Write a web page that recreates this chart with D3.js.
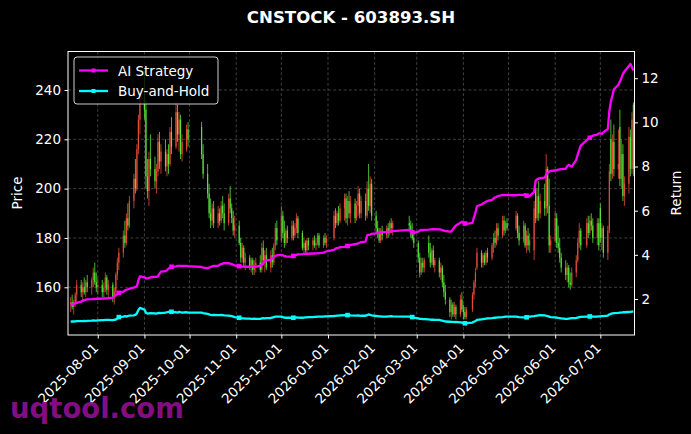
<!DOCTYPE html>
<html><head><meta charset="utf-8">
<script src="https://cdn.jsdelivr.net/npm/d3@7"></script>
<style>
body{margin:0;background:#000;}
svg{display:block;font-family:"DejaVu Sans",sans-serif;}
</style>
</head><body><svg id="c" width="691" height="434"></svg>
<script>
const titleText = "CNSTOCK - 603893.SH";
const startDate = "2025-07-14", endDate = "2026-07-23";
const holidays = ["2025-10-01","2025-10-02","2025-10-03","2025-10-06","2025-10-07","2025-10-08",
  "2026-01-01","2026-01-02","2026-02-16","2026-02-17","2026-02-18","2026-02-19","2026-02-20","2026-02-23",
  "2026-04-06","2026-05-01","2026-05-04","2026-05-05","2026-06-19"];
// [open, high, low, close]
const ohlc = [
[153,156,150,154],[154,157,151,152],[152,155,149,154],[154,158,152,157],[157,163,154,161],
[161,163,156,158],[158,162,154,160],[160,164,157,158],[158,163,156,162],[162,165,158,160],
[160,164,157,163],[163,168,160,166],[166,170,161,162],[162,166,158,160],[160,164,157,161],
[161,163,156,158],[158,162,155,160],[160,166,158,164],[164,165,157,159],[159,163,156,161],
[161,162,154,156],[156,160,153,158],[158,166,156,165],[165,172,163,170],[170,176,167,174],
[174,183,172,181],[181,187,176,178],[178,190,177,188],[188,194,183,185],[185,197,184,195],
[195,206,192,204],[204,212,198,200],[200,218,199,216],[216,230,214,228],[228,240,222,236],
[238,248,228,232],[232,236,200,205],[205,212,196,199],[199,215,193,212],[212,222,205,208],
[208,213,200,203],[203,210,198,207],[207,222,205,219],[219,223,208,211],[211,218,206,215],
[215,220,207,209],[209,216,205,214],[214,218,206,210],[210,225,209,223],[223,229,214,217],
[217,235,216,231],[231,234,219,222],[222,231,215,228],[228,230,212,214],[214,222,211,219],
[216,226,215,224],[224,227,217,220],
[225,227,212,214],[214,218,204,206],
[206,210,196,198],[198,202,188,190],[190,196,184,187],[187,194,185,192],[192,195,184,186],
[186,193,184,190],[190,192,185,187],[187,195,186,193],[193,197,188,190],[190,194,183,186],
[186,198,185,196],[196,201,190,192],[192,194,186,188],[188,191,181,183],[183,189,180,185],
[185,187,177,178],[178,180,170,172],[172,178,170,176],[176,177,168,170],[170,174,167,172],
[172,173,167,168],[168,172,166,171],[171,172,165,167],[167,171,165,169],[169,172,166,170],
[170,173,166,167],[167,178,166,176],[176,179,169,171],[171,175,166,173],[173,176,167,168],
[168,175,166,173],[173,176,168,170],[170,178,169,177],[177,186,175,184],[184,187,177,179],
[179,193,178,189],[189,191,180,182],[182,187,176,178],[178,184,177,183],[183,185,178,180],
[180,187,179,185],[185,187,179,181],[181,186,180,184],[184,190,182,188],[188,189,180,182],
[182,183,175,176],[176,180,174,178],[178,179,174,175],[175,180,174,179],[179,180,175,177],
[177,180,175,179],[179,181,176,177],[177,180,175,178],[178,182,177,181],[181,182,176,177],
[177,181,176,180],[180,182,177,178],[178,181,176,180],
[180,191,179,189],[189,192,184,186],[186,191,185,190],[190,193,185,187],[187,194,186,192],
[192,198,187,196],[196,198,186,188],[188,197,185,195],[195,199,188,190],[190,197,186,194],
[194,196,186,188],[188,195,187,193],[193,201,189,198],[198,200,188,190],[190,197,188,195],
[195,198,187,189],[189,203,188,200],[200,210,191,193],[193,205,190,202],[202,204,187,189],
[189,191,182,184],[184,187,180,182],[182,184,178,179],[179,184,178,183],[183,185,179,181],
[181,185,180,184],[184,186,180,182],[182,187,181,186],[186,188,182,184],[184,187,181,186],
[186,189,183,185],[185,187,180,182],[182,186,179,180],[180,183,176,178],
[178,179,170,172],[172,174,164,166],[166,172,165,170],[170,172,166,168],[168,172,166,171],
[178,181,172,174],[174,178,168,170],[170,176,169,175],[175,177,168,169],[169,172,166,171],
[171,172,164,166],[166,170,163,168],[168,169,160,162],[162,165,156,158],[158,161,153,155],
[155,156,148,150],[150,155,147,153],[153,154,148,149],[149,154,148,152],[152,153,147,149],
[149,157,148,155],[155,158,150,151],[151,153,147,150],[150,152,147,148],[148,152,147,151],
[151,158,150,157],[157,163,155,162],[162,168,160,166],[168,176,167,174],
[174,175,168,170],[170,174,168,173],[173,174,169,170],[170,175,169,174],[174,176,170,172],
[172,178,171,177],[177,182,174,180],[180,183,176,178],[178,186,177,184],[184,186,179,181],
[181,189,180,187],[187,189,181,183],[183,187,182,186],[186,188,183,184],
[184,191,183,189],[189,190,180,182],[182,185,177,179],
[179,187,178,185],[185,186,176,177],[177,183,174,181],[181,184,175,177],[177,182,174,179],
[175,195,171,192],[200,203,186,188],[188,200,187,197],[197,203,187,190],[190,198,188,195],
[195,202,189,192],[192,214,189,208],[208,209,190,193],[193,204,174,177],[177,181,174,179],
[179,191,178,188],[188,190,176,178],[178,185,174,176],[176,180,170,172],[172,174,166,168],
[168,171,163,165],[165,170,162,168],[168,169,160,162],[162,166,159,161],[161,168,160,166],
[166,173,164,171],[171,180,170,178],[178,186,176,183],[183,184,175,177],
[177,188,176,186],[186,189,180,182],[182,189,181,187],[187,190,183,185],[185,188,178,180],
[180,188,177,186],[186,188,175,177],[192,194,178,180],[180,186,175,184],[184,185,172,174],
[174,185,171,183],[183,210,182,207],[220,228,203,206],[206,222,204,219],[219,226,205,208],
[208,224,204,210],[225,232,201,204],[204,220,200,214],[214,218,195,197],[197,205,193,202],
[202,225,198,221],[221,224,205,208],[208,231,206,228],[234,235,205,208]
];
const aiReturn = [
1.73,1.75,1.78,1.80,1.82, 1.88,1.92,1.95,1.97,1.98, 1.99,2.00,2.00,2.01,2.01, 2.02,2.02,2.03,2.03,2.04,
2.06,2.12,2.18,2.22,2.28, 2.33,2.38,2.42,2.44,2.47, 2.52,2.55,2.58,2.85,3.02, 2.98,2.94,2.93,2.96,2.98,
3.00,3.00,3.02,3.15,3.24, 3.26,3.30,3.38,3.42,3.46, 3.48,3.50,3.50,3.50,3.50, 3.50,3.49, 3.45,3.42,
3.40,3.42,3.45,3.48,3.50, 3.50,3.55,3.58,3.60,3.62, 3.62,3.60,3.58,3.55,3.52, 3.49,3.48,3.47,3.47,3.46,
3.46,3.47,3.50,3.48,3.47, 3.50,3.55,3.62,3.70,3.75, 3.78,3.84,3.90,3.95,3.98, 4.00,3.98,3.95,3.93,3.92,
3.92,3.95,3.98,4.00,4.02, 4.03,4.04,4.04,4.05,4.05, 4.06,4.06,4.07,4.07,4.08, 4.10,4.13,4.16,
4.22,4.28,4.30,4.32,4.35, 4.36,4.38,4.40,4.42,4.45, 4.48,4.50,4.52,4.55,4.58, 4.60,4.88,4.90,4.92,4.95,
4.97,4.99,5.00,5.02,5.03, 5.04,5.05,5.05,5.06,5.07, 5.13,5.08,5.03,5.00, 5.05,5.10,5.13,5.12,5.13,
5.14,5.15,5.15,5.16,5.16, 5.15,5.14,5.12,5.10,5.08, 5.05,5.06,5.15,5.25,5.33, 5.45,5.50,5.45,5.42,5.40,
5.45,5.70,5.90,6.20, 6.28,6.32,6.36,6.40,6.44, 6.49,6.55,6.60,6.62,6.66, 6.71,6.72,6.70,6.71,
6.70,6.71,6.72, 6.72,6.75,6.68,6.64,6.66, 6.85,7.35,7.42,7.45,7.47, 7.50,7.62,7.72,7.77,7.80,
7.82,7.84,7.86,7.87,7.88, 7.90,8.02,8.07,8.03,8.00, 8.30,8.55,8.75,8.95, 9.20,9.25,9.30,9.35,9.40,
9.45,9.50,9.50,9.48,9.55, 9.70,10.50,10.95,11.20,11.50, 11.70,11.85,12.00,12.20,12.30, 12.55,12.65,12.50,12.35
];
const bhReturn = [
0.97,0.98,0.98,0.99,1.00, 1.00,1.00,1.01,1.00,1.01, 1.02,1.03,1.02,1.02,1.03, 1.04,1.04,1.05,1.05,1.05,
1.04,1.06,1.07,1.12,1.18, 1.20,1.22,1.20,1.23,1.25, 1.26,1.28,1.35,1.50,1.60, 1.52,1.38,1.34,1.35,1.36,
1.35,1.34,1.36,1.37,1.36, 1.38,1.40,1.42,1.43,1.42, 1.40,1.38,1.42,1.40,1.38, 1.40,1.38, 1.38,1.36,
1.33,1.30,1.28,1.27,1.28, 1.27,1.27,1.28,1.27,1.26, 1.25,1.24,1.22,1.20,1.18, 1.15,1.13,1.12,1.12,1.11,
1.11,1.10,1.10,1.11,1.10, 1.10,1.12,1.13,1.12,1.13, 1.14,1.16,1.18,1.20,1.20, 1.20,1.18,1.16,1.15,1.15,
1.16,1.15,1.16,1.17,1.16, 1.15,1.16,1.17,1.17,1.18, 1.18,1.19,1.19,1.20,1.20, 1.20,1.21,1.21,
1.23,1.24,1.25,1.25,1.26, 1.27,1.26,1.27,1.27,1.26, 1.25,1.25,1.26,1.25,1.24, 1.24,1.27,1.30,1.28,1.26,
1.23,1.22,1.21,1.21,1.20, 1.20,1.21,1.21,1.22,1.21, 1.20,1.19,1.18,1.16, 1.12,1.10,1.10,1.09,1.09,
1.08,1.07,1.06,1.06,1.05, 1.05,1.03,1.02,1.00,0.98, 0.97,0.96,0.96,0.95,0.96, 0.94,0.93,0.90,0.90,0.91,
0.93,0.97,1.00,1.05, 1.08,1.09,1.10,1.11,1.12, 1.13,1.14,1.15,1.16,1.17, 1.18,1.19,1.20,1.20,
1.20,1.19,1.18, 1.17,1.16,1.17,1.18,1.20, 1.22,1.24,1.25,1.26,1.27, 1.26,1.24,1.22,1.20,1.18,
1.17,1.16,1.14,1.13,1.12, 1.10,1.10,1.11,1.12,1.13, 1.14,1.16,1.18,1.19, 1.20,1.20,1.21,1.21,1.20,
1.20,1.21,1.21,1.22,1.22, 1.25,1.30,1.33,1.35,1.36, 1.37,1.38,1.38,1.40,1.40, 1.41,1.42,1.43,1.44
];
const markerDates = ["2025-08-15","2025-09-19","2025-11-03","2025-12-09","2026-01-14",
  "2026-02-26","2026-04-02","2026-05-13","2026-06-24"];
const priceTicks = [160,180,200,220,240];
const returnTicks = [2,4,6,8,10,12];
const dateTicks = ["2025-08-01","2025-09-01","2025-10-01","2025-11-01","2025-12-01","2026-01-01",
  "2026-02-01","2026-03-01","2026-04-01","2026-05-01","2026-06-01","2026-07-01"];
const seriesNames = ["AI Strategy","Buy-and-Hold"];
const seriesColors = ["#ff00ff","#00ffff"];

// trading dates
const dates = [];
for (let t = Date.parse(startDate+"T00:00:00Z"); t <= Date.parse(endDate+"T00:00:00Z"); t += 864e5) {
  const d = new Date(t), wd = d.getUTCDay(), s = d.toISOString().slice(0,10);
  if (wd === 0 || wd === 6 || holidays.includes(s)) continue;
  dates.push(d);
}
const n = Math.min(dates.length, ohlc.length, aiReturn.length, bhReturn.length);
const dateKey = dates.map(d => d.toISOString().slice(0,10));

const L = 68, R = 634.5, T = 51.5, B = 335;
const svg = d3.select("#c");
svg.append("rect").attr("width",691).attr("height",434).attr("fill","#000");

const x = d3.scaleUtc().domain([Date.UTC(2025,6,12,5), Date.UTC(2026,6,23,17)]).range([L,R]);
const yP = d3.scaleLinear().domain([140.66,255.6]).range([B,T]);
const yR = d3.scaleLinear().domain([0.369,13.21]).range([B,T]);
const parse = s => new Date(s+"T00:00:00Z");

svg.append("clipPath").attr("id","clip").append("rect").attr("x",L).attr("y",T).attr("width",R-L).attr("height",B-T);
const plot = svg.append("g").attr("clip-path","url(#clip)");

// grid
const grid = plot.append("g").attr("stroke","#5a5a5a").attr("stroke-width",0.7).attr("stroke-dasharray","3,2.2");
grid.selectAll(".gx").data(dateTicks).join("line")
  .attr("x1",d=>x(parse(d))).attr("x2",d=>x(parse(d))).attr("y1",T).attr("y2",B);
grid.selectAll(".gy").data(priceTicks).join("line")
  .attr("x1",L).attr("x2",R).attr("y1",d=>yP(d)).attr("y2",d=>yP(d));

// candles
const candles = d3.range(n).map(i => ({d:dates[i], o:ohlc[i][0], h:ohlc[i][1], l:ohlc[i][2], c:ohlc[i][3]}));
const colUp = "#f2503c", colDn = "#5cf03c";
const cg = plot.append("g");
cg.selectAll("line").data(candles).join("line")
  .attr("x1",d=>x(d.d)).attr("x2",d=>x(d.d)).attr("y1",d=>yP(d.h)).attr("y2",d=>yP(d.l))
  .attr("stroke",d=>d.c>=d.o?colUp:colDn).attr("stroke-width",0.9).attr("opacity",0.85);
cg.selectAll("rect").data(candles).join("rect")
  .attr("x",d=>x(d.d)-0.6).attr("width",1.2)
  .attr("y",d=>yP(Math.max(d.o,d.c))).attr("height",d=>Math.max(0.6, Math.abs(yP(d.o)-yP(d.c))))
  .attr("fill",d=>d.c>=d.o?colUp:colDn).attr("opacity",0.85);

// return lines
const line = d3.line().x((v,i)=>x(dates[i])).y(v=>yR(v)).curve(d3.curveLinear);
[aiReturn, bhReturn].forEach((arr,k) => {
  plot.append("path").datum(arr.slice(0,n)).attr("d",line).attr("fill","none")
    .attr("stroke",seriesColors[k]).attr("stroke-width",2.3).attr("stroke-linejoin","round");
  const idx = markerDates.map(s => dateKey.indexOf(s)).filter(i => i >= 0 && i < n);
  plot.append("g").selectAll("rect").data(idx).join("rect")
    .attr("x",i=>x(dates[i])-2.3).attr("y",i=>yR(arr[i])-2.3).attr("width",4.6).attr("height",4.6)
    .attr("fill",seriesColors[k]);
});

// frame
svg.append("rect").attr("x",L).attr("y",T).attr("width",R-L).attr("height",B-T)
  .attr("fill","none").attr("stroke","#fff").attr("stroke-width",1);

const fs = "13.5px";
// left axis
const ax = svg.append("g").attr("transform",`translate(${L},0)`)
  .call(d3.axisLeft(yP).tickValues(priceTicks).tickSize(3.5).tickPadding(3.5).tickFormat(d3.format("d")));
// right axis
const ar = svg.append("g").attr("transform",`translate(${R},0)`)
  .call(d3.axisRight(yR).tickValues(returnTicks).tickSize(3.5).tickPadding(3.5).tickFormat(d3.format("d")));
// bottom axis
const ab = svg.append("g").attr("transform",`translate(0,${B})`)
  .call(d3.axisBottom(x).tickValues(dateTicks.map(parse)).tickSize(3.5).tickFormat(d3.utcFormat("%Y-%m-%d")));
[ax,ar,ab].forEach(g => {
  g.select(".domain").remove();
  g.selectAll(".tick line").attr("stroke","#fff");
  g.selectAll(".tick text").attr("fill","#fff").style("font-size",fs).style("font-family","DejaVu Sans");
});
ab.selectAll(".tick text").attr("text-anchor","end").attr("dy",0).attr("y",0)
  .attr("transform","translate(1,14) rotate(-45)");

// axis labels
svg.append("text").attr("transform","translate(22,193) rotate(-90)").attr("text-anchor","middle")
  .attr("fill","#fff").style("font-size",fs).text("Price");
svg.append("text").attr("transform","translate(681,193) rotate(-90)").attr("text-anchor","middle")
  .attr("fill","#fff").style("font-size",fs).text("Return");
// title
svg.append("text").attr("x",351).attr("y",23).attr("text-anchor","middle").attr("fill","#fff")
  .style("font-size","16.6px").style("font-weight","bold").text(titleText);

// legend
const lg = svg.append("g");
lg.append("rect").attr("x",74).attr("y",57).attr("width",144).attr("height",47).attr("rx",3)
  .attr("fill","#000").attr("fill-opacity",0.8).attr("stroke","#cccccc").attr("stroke-width",1);
seriesNames.forEach((name,k) => {
  const yy = 70.5 + k*20.5;
  lg.append("line").attr("x1",79).attr("x2",108).attr("y1",yy).attr("y2",yy)
    .attr("stroke",seriesColors[k]).attr("stroke-width",2.3);
  lg.append("rect").attr("x",91.5).attr("y",yy-2).attr("width",4).attr("height",4).attr("fill",seriesColors[k]);
  lg.append("text").attr("x",118).attr("y",yy+5).attr("fill","#fff").style("font-size",fs).text(name);
});

// watermark
svg.append("text").attr("x",10).attr("y",418).attr("fill","#8f108f").attr("opacity",0.92)
  .style("font-size","27.5px").style("font-weight","bold").text("uqtool.com");
</script>
</body></html>
